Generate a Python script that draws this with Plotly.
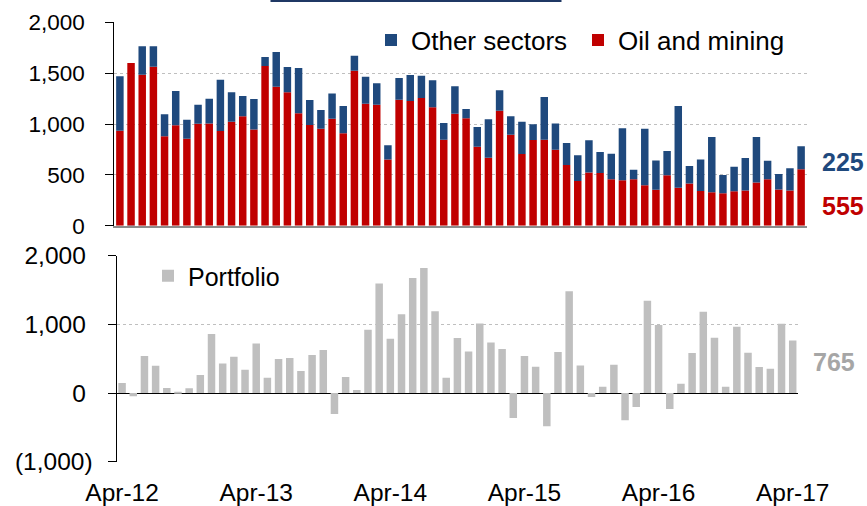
import pandas as pd
import plotly.graph_objects as go

# ---------------- data ----------------
top_months = pd.date_range("2012-04-01", periods=62, freq="MS").strftime("%b-%y").tolist()
bottom_months = top_months[:61]

oil_mining = [934, 1600, 1485, 1564, 879, 987, 856, 1003, 1006, 931,
              1023, 1075, 947, 1570, 1367, 1311, 1105, 990, 954, 1052,
              908, 1524, 1200, 1190, 652, 1239, 1226, 1255, 1164, 846,
              1101, 1056, 777, 669, 1131, 895, 705, 842, 846, 747,
              597, 439, 524, 518, 456, 446, 456, 397, 354, 495,
              374, 416, 341, 328, 318, 338, 347, 426, 456, 357,
              347, 555]
other_sectors = [535, -25, 279, 200, 216, 337, 186, 187, 243, 505,
                 288, 200, 299, 89, 341, 249, 445, 246, 183, 249,
                 269, 148, 265, 210, 138, 213, 256, 220, 265, 164,
                 269, 91, 193, 377, 200, 180, 318, 155, 419, 259,
                 216, 253, 315, 206, 252, 511, 95, 557, 288, 239,
                 803, 171, 311, 544, 180, 242, 318, 446, 183, 151,
                 217, 225]
portfolio = [145, -48, 538, 397, 73, 8, 68, 262, 858, 431,
             528, 339, 722, 223, 494, 509, 320, 553, 625, -305,
             233, 44, 921, 1595, 790, 1149, 1677, 1822, 1192, 223,
             800, 606, 1013, 737, 640, -364, 538, 383, -485, 596,
             1483, 402, -58, 92, 412, -397, -204, 1343, 989, -233,
             136, 582, 1183, 805, 92, 965, 586, 378, 354, 1008,
             765]

bottom_tick_labels = ["Apr-12", "Apr-13", "Apr-14", "Apr-15", "Apr-16", "Apr-17"]
top_y_ticks = [0, 500, 1000, 1500, 2000]
bottom_y_ticks = [-1000, 0, 1000, 2000]
bottom_y_text = ["(1,000)", "0\u2008", "1,000\u2008", "2,000\u2008"]

# ---------------- styling ----------------
RED = "#C00000"
NAVY = "#1F497D"
GREY = "#BFBFBF"
FONT = "Liberation Sans, Arial, sans-serif"
W, H = 867, 506

def px_x(p):
    return p / W

def px_y(p):
    return (H - p) / H

top_xdom = [px_x(114.3), px_x(806.7)]
top_ydom = [px_y(225.7), px_y(22.3)]
bot_xdom = [px_x(116.5), px_x(798.3)]
bot_ydom = [px_y(461.7), px_y(255.7)]
bot_range = [-1000, 2000]
zero_pos = bot_ydom[0] + (bot_ydom[1] - bot_ydom[0]) * (0 - bot_range[0]) / (bot_range[1] - bot_range[0])

fig = go.Figure()
fig.add_trace(go.Bar(x=top_months, y=oil_mining, name="Oil and mining",
                     marker=dict(color=RED, line=dict(width=0)),
                     xaxis="x", yaxis="y", legend="legend", cliponaxis=False))
fig.add_trace(go.Bar(x=top_months, y=other_sectors, name="Other sectors",
                     marker=dict(color=NAVY, line=dict(width=0)),
                     xaxis="x", yaxis="y", legend="legend", cliponaxis=False))
fig.add_trace(go.Bar(x=bottom_months, y=portfolio, name="Portfolio",
                     marker=dict(color=GREY, line=dict(width=0)),
                     xaxis="x2", yaxis="y2", legend="legend2"))

boundary_ticks = [bottom_months.index(m) - 0.5 for m in bottom_tick_labels[1:]]

fig.update_layout(
    width=W, height=H,
    template="none",
    barmode="relative",
    bargap=0.33,
    margin=dict(l=0, r=0, t=0, b=0),
    paper_bgcolor="white", plot_bgcolor="rgba(0,0,0,0)",
    font=dict(family=FONT, color="black", size=22),
    showlegend=True,
    xaxis=dict(domain=top_xdom, anchor="y", type="category",
               categoryarray=top_months, range=[-0.5, len(top_months) - 0.5],
               showticklabels=False, ticks="", showgrid=False,
               showline=True, linecolor="#8C8C8C", linewidth=2, zeroline=False,
               automargin=False),
    yaxis=dict(domain=top_ydom, anchor="x", range=[0, 2000],
               tickvals=top_y_ticks, tickformat=",", ticks="outside", ticklen=8,
               tickcolor="black", tickwidth=1, showline=True, linecolor="black",
               linewidth=1, showgrid=True, gridcolor="#BFBFBF", griddash="dot",
               gridwidth=1, zeroline=False, tickfont=dict(size=22.5),
               ticklabelstandoff=16, automargin=False),
    xaxis2=dict(domain=bot_xdom, anchor="y2", type="category",
                categoryarray=bottom_months, range=[-0.5, len(bottom_months) - 0.5],
                tickvals=bottom_tick_labels, ticktext=bottom_tick_labels,
                ticks="outside", ticklen=9, tickcolor="rgba(0,0,0,0)",
                showgrid=False, showline=False, zeroline=False,
                tickfont=dict(size=24.5), automargin=False),
    xaxis3=dict(overlaying="x2", anchor="free", position=zero_pos,
                range=[-0.5, len(bottom_months) - 0.5], tickvals=boundary_ticks,
                ticks="outside", ticklen=8, tickcolor="#404040", tickwidth=1.5,
                showticklabels=False, showgrid=False, showline=False, zeroline=False,
                automargin=False),
    yaxis2=dict(domain=bot_ydom, anchor="x2", range=bot_range,
                tickvals=bottom_y_ticks, ticktext=bottom_y_text,
                ticks="outside", ticklen=8, tickcolor="black", tickwidth=1,
                showline=True, linecolor="black", linewidth=1,
                showgrid=True, gridcolor="#BFBFBF", griddash="dot", gridwidth=1,
                zeroline=True, zerolinecolor="black", zerolinewidth=1.3,
                tickfont=dict(size=24.5), ticklabelstandoff=10, automargin=False),
    legend=dict(orientation="h", x=px_x(371), xanchor="left", y=px_y(40), yanchor="middle",
                traceorder="reversed", font=dict(size=26), bgcolor="rgba(0,0,0,0)",
                entrywidth=162, entrywidthmode="pixels",
                itemclick=False, itemdoubleclick=False),
    legend2=dict(orientation="h", x=px_x(148), xanchor="left", y=px_y(276), yanchor="middle",
                 font=dict(size=25), bgcolor="rgba(0,0,0,0)",
                 itemclick=False, itemdoubleclick=False),
)

# cropped title box edge at the very top
fig.add_shape(type="rect", xref="paper", yref="paper",
              x0=px_x(270.5), x1=px_x(561.5), y0=px_y(2), y1=1.0,
              line=dict(width=0), fillcolor="#1F3864")

# end-of-series value labels
fig.add_annotation(xref="paper", yref="paper", x=px_x(820), y=px_y(162),
                   xanchor="left", yanchor="middle", showarrow=False,
                   text=f"<b>{other_sectors[-1]}</b>", font=dict(size=25, color=NAVY))
fig.add_annotation(xref="paper", yref="paper", x=px_x(820), y=px_y(206),
                   xanchor="left", yanchor="middle", showarrow=False,
                   text=f"<b>{oil_mining[-1]}</b>", font=dict(size=25, color=RED))
fig.add_annotation(xref="paper", yref="paper", x=px_x(811), y=px_y(362),
                   xanchor="left", yanchor="middle", showarrow=False,
                   text=f"<b>{portfolio[-1]}</b>", font=dict(size=25, color="#A6A6A6"))

fig.write_html("out.html", config={"displayModeBar": False},
               post_script="document.body.style.margin='0';document.body.style.overflow='hidden';")
